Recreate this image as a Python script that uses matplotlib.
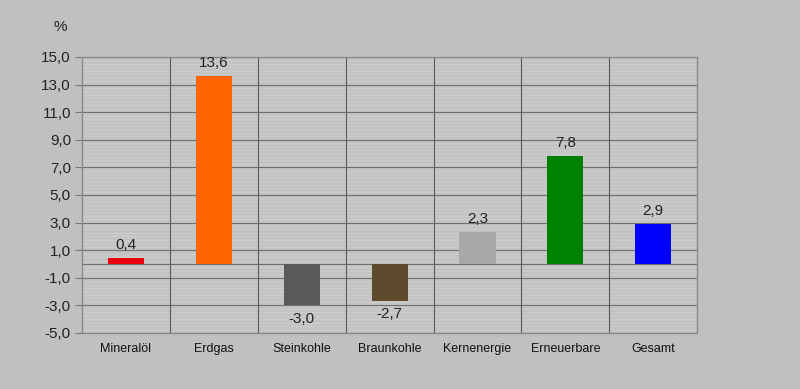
import matplotlib.pyplot as plt
import numpy as np

categories = ["Mineralöl", "Erdgas", "Steinkohle", "Braunkohle", "Kernenergie", "Erneuerbare", "Gesamt"]
values = [0.4, 13.6, -3.0, -2.7, 2.3, 7.8, 2.9]
colors = ["#e8000b", "#ff6600", "#595959", "#5e4a2c", "#a8a8a8", "#008000", "#0000ff"]
yticks = [-5, -3, -1, 1, 3, 5, 7, 9, 11, 13, 15]


def fmt(v):
    return f"{v:.1f}".replace(".", ",")


def main():
    plt.rcParams["font.family"] = ["Liberation Sans", "DejaVu Sans"]
    bg = "#c0c0c0"
    fig = plt.figure(figsize=(8, 3.89), dpi=100, facecolor=bg)
    ax = fig.add_axes([0.1025, 0.144, 0.769, 0.7095])
    ax.set_facecolor("#c4c4c4")

    x = np.arange(len(categories))
    ax.set_xlim(-0.5, len(categories) - 0.5)
    ax.set_ylim(-5, 15)

    # faint minor lines
    for yy in np.arange(-5, 15.01, 0.25):
        ax.axhline(yy, color="#cdcdcd", lw=0.6, zorder=0)
    for yy in yticks:
        ax.axhline(yy, color="#707070", lw=0.8, zorder=1)
    ax.axhline(0, color="#707070", lw=0.8, zorder=1)
    for xx in np.arange(0.5, len(categories) - 0.5, 1):
        ax.axvline(xx, color="#5a5a5a", lw=0.8, zorder=1)

    ax.bar(x, values, width=0.41, color=colors, zorder=3)

    for xi, v in zip(x, values):
        if v >= 0:
            ax.text(xi, v + 0.45, fmt(v), ha="center", va="bottom", fontsize=11, color="#222222")
        else:
            ax.text(xi, v - 0.45, fmt(v), ha="center", va="top", fontsize=11, color="#222222")

    ax.set_yticks(yticks)
    ax.set_yticklabels([fmt(t) for t in yticks], fontsize=11, color="#222222")
    ax.set_xticks(x)
    ax.set_xticklabels(categories, fontsize=9, color="#111111")
    ax.tick_params(axis="x", length=0, pad=7)
    ax.tick_params(axis="y", length=5, color="#777777", pad=3)
    for s in ax.spines.values():
        s.set_color("#8a8a8a")
        s.set_linewidth(1.0)

    fig.text(60 / 800, 1 - 27 / 389, "%", fontsize=11, color="#222222", ha="center", va="center")

    fig.savefig("out.png", dpi=100, facecolor=bg)


if __name__ == "__main__":
    main()
